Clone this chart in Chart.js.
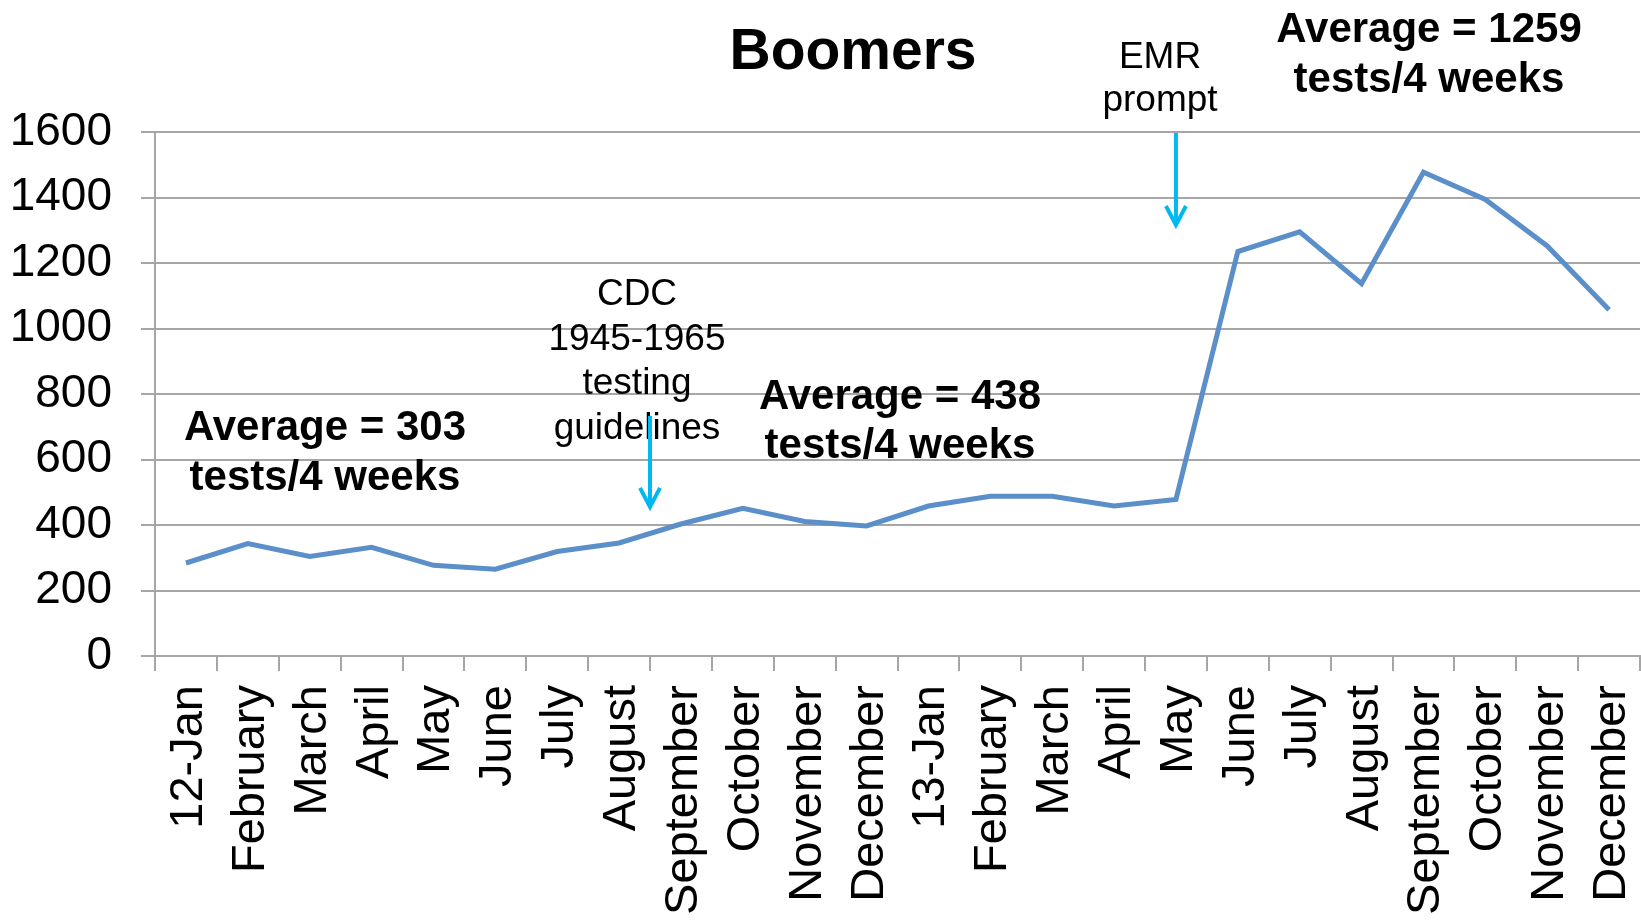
<!DOCTYPE html>
<html>
<head>
<meta charset="utf-8">
<script src="https://cdn.jsdelivr.net/npm/chart.js@4.4.1/dist/chart.umd.min.js"></script>
<style>
  body { margin: 0; background: #fff; }
  #wrap { width: 1641px; height: 920px; }
</style>
</head>
<body>
<div id="wrap"><canvas id="chart" width="1641" height="920"></canvas></div>
<script>
const categories = [
  "12-Jan", "February", "March", "April", "May", "June", "July", "August",
  "September", "October", "November", "December",
  "13-Jan", "February", "March", "April", "May", "June", "July", "August",
  "September", "October", "November", "December"
]

// tests per 4 weeks
const boomerTests = [
  284, 343, 304, 332, 277, 265, 319, 345, 403, 451, 411, 397,
  458, 488, 488, 458, 478, 1235, 1295, 1137, 1477, 1394, 1252, 1057
]

const yTickValues = [0, 200, 400, 600, 800, 1000, 1200, 1400, 1600]

const chartTitle = "Boomers"

// text boxes: x = centre, y = baseline of first line (pixels)
const notes = [
  { lines: ["Average = 303", "tests/4 weeks"], x: 325, y: 440, gap: 50, bold: true },
  { lines: ["CDC", "1945-1965", "testing", "guidelines"], x: 637, y: 305, gap: 44.7, bold: false },
  { lines: ["Average = 438", "tests/4 weeks"], x: 900, y: 409, gap: 49, bold: true },
  { lines: ["EMR", "prompt"], x: 1160, y: 68, gap: 43, bold: false },
  { lines: ["Average = 1259", "tests/4 weeks"], x: 1429, y: 42, gap: 50, bold: true }
]

// arrows: category index (can be fractional), start and tip as axis values
const arrows = [
  { at: 7.5, from: 733, to: 446 },
  { at: 16, from: 1597, to: 1307 }
]

const FONT = "'Liberation Sans', Arial, sans-serif"

const notesPlugin = {
  id: 'notes',
  afterDraw(chart) {
    const ctx = chart.ctx
    const xs = chart.scales.x
    const ys = chart.scales.y
    ctx.save()
    ctx.fillStyle = '#000'
    ctx.textAlign = 'center'
    ctx.textBaseline = 'alphabetic'
    ctx.font = "bold 57px " + FONT
    ctx.fillText(chartTitle, 853, 69)

    notes.forEach(n => {
      ctx.font = (n.bold ? "bold 42px " : "37px ") + FONT
      n.lines.forEach((line, i) => {
        ctx.fillText(line, n.x, n.y + i * n.gap)
      })
    })

    ctx.strokeStyle = '#00B9F1'
    ctx.lineWidth = 4
    ctx.lineJoin = 'miter'
    ctx.lineCap = 'butt'
    arrows.forEach(a => {
      const x = xs.getPixelForValue(a.at)
      const y0 = ys.getPixelForValue(a.from)
      const y1 = ys.getPixelForValue(a.to)
      ctx.beginPath()
      ctx.moveTo(x, y0)
      ctx.lineTo(x, y1 - 3)
      ctx.stroke()
      ctx.beginPath()
      ctx.moveTo(x - 10, y1 - 22)
      ctx.lineTo(x, y1 - 3)
      ctx.lineTo(x + 10, y1 - 22)
      ctx.stroke()
    })
    ctx.restore()
  }
}

new Chart(document.getElementById('chart'), {
  type: 'line',
  data: {
    labels: categories,
    datasets: [{
      label: 'Boomers',
      data: boomerTests,
      borderColor: '#5B8FC9',
      borderWidth: 5,
      pointRadius: 0,
      tension: 0,
      fill: false
    }]
  },
  options: {
    responsive: false,
    animation: false,
    layout: { padding: { top: 132, left: 0, right: 1, bottom: 0 } },
    plugins: {
      legend: { display: false },
      title: { display: false },
      tooltip: { enabled: false }
    },
    scales: {
      x: {
        offset: true,
        grid: {
          offset: true,
          drawOnChartArea: false,
          drawTicks: true,
          tickLength: 15,
          color: '#A6A6A6',
          lineWidth: 2
        },
        border: { color: '#A6A6A6', width: 2 },
        ticks: {
          autoSkip: false,
          maxRotation: 90,
          minRotation: 90,
          padding: 14,
          labelOffset: 3,
          color: '#000',
          font: { family: FONT, size: 47 }
        },
        afterFit(scale) {
          scale.height = 264
          scale.paddingLeft = 0
          scale.paddingRight = 0
        }
      },
      y: {
        min: 0,
        max: 1600,
        afterBuildTicks(scale) {
          scale.ticks = yTickValues.map(v => ({ value: v }))
        },
        grid: {
          color: '#A6A6A6',
          lineWidth: 2,
          tickLength: 14
        },
        border: { color: '#A6A6A6', width: 2 },
        ticks: {
          padding: 29,
          color: '#000',
          font: { family: FONT, size: 46 },
          callback: v => String(v)
        },
        afterFit(scale) {
          scale.width = 155
          scale.paddingTop = 0
          scale.paddingBottom = 0
        }
      }
    }
  },
  plugins: [notesPlugin]
})
</script>
</body>
</html>
